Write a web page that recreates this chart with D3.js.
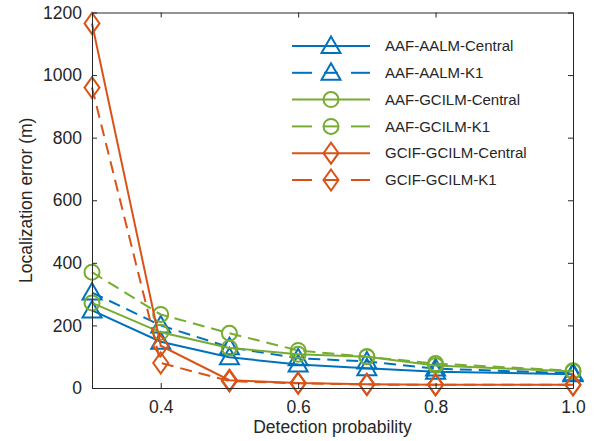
<!DOCTYPE html>
<html lang="en">
<head>
<meta charset="utf-8">
<title>Localization error</title>
<script src="https://d3js.org/d3.v7.min.js"></script>
<style>
  body { margin: 0; background: #fff; }
  text { font-family: "Liberation Sans", Arial, sans-serif; fill: #262626; }
</style>
</head>
<body>
<script>
// data
var probs = [0.3, 0.4, 0.5, 0.6, 0.7, 0.8, 1.0];
var aalmCentral  = [248, 148, 98, 75, 63, 52, 44];
var aalmK1       = [305, 200, 130, 95, 85, 62, 47];
var gcilmCentral = [272, 178, 128, 108, 100, 72, 53];
var gcilmK1      = [370, 235, 175, 120, 100, 78, 55];
var gcifCentral  = [1165, 135, 25, 16, 12, 10, 10];
var gcifK1       = [960, 80, 22, 15, 11, 10, 10];
var xTicks = [0.4, 0.6, 0.8, 1.0];
var yTicks = [0, 200, 400, 600, 800, 1000, 1200];

var blue = "#0072BD", green = "#77AC30", red = "#D95319";

var series = [
  {name: "AAF-AALM-Central", vals: aalmCentral, color: blue, dash: null, marker: "tri"},
  {name: "AAF-AALM-K1", vals: aalmK1, color: blue, dash: "12,7", marker: "tri"},
  {name: "AAF-GCILM-Central", vals: gcilmCentral, color: green, dash: null, marker: "circ"},
  {name: "AAF-GCILM-K1", vals: gcilmK1, color: green, dash: "12,7", marker: "circ"},
  {name: "GCIF-GCILM-Central", vals: gcifCentral, color: red, dash: null, marker: "dia"},
  {name: "GCIF-GCILM-K1", vals: gcifK1, color: red, dash: "12,7", marker: "dia"}
];

var W = 595, H = 441;
var pL = 92, pR = 573, pT = 12.5, pB = 388;

var svg = d3.select("body").append("svg").attr("width", W).attr("height", H);

var x = d3.scaleLinear().domain([0.3, 1.0]).range([pL, pR]);
var y = d3.scaleLinear().domain([0, 1200]).range([pB, pT]);

function drawMarker(g, type, cx, cy, color) {
  if (type === "circ") {
    g.append("circle").attr("cx", cx).attr("cy", cy).attr("r", 7.5)
      .attr("fill", "none").attr("stroke", color).attr("stroke-width", 2);
  } else if (type === "tri") {
    g.append("path")
      .attr("d", "M" + cx + "," + (cy - 9.5) + "L" + (cx + 9.5) + "," + (cy + 7) + "L" + (cx - 9.5) + "," + (cy + 7) + "Z")
      .attr("fill", "none").attr("stroke", color).attr("stroke-width", 2);
  } else {
    g.append("path")
      .attr("d", "M" + cx + "," + (cy - 10.5) + "L" + (cx + 7.5) + "," + cy + "L" + cx + "," + (cy + 10.5) + "L" + (cx - 7.5) + "," + cy + "Z")
      .attr("fill", "none").attr("stroke", color).attr("stroke-width", 2);
  }
}

// series lines + markers
var line = d3.line().x(function(d) { return x(d[0]); }).y(function(d) { return y(d[1]); });
var plot = svg.append("g");
series.forEach(function(s) {
  var pts = probs.map(function(p, i) { return [p, s.vals[i]]; });
  plot.append("path").datum(pts).attr("d", line)
    .attr("fill", "none").attr("stroke", s.color).attr("stroke-width", 2)
    .attr("stroke-dasharray", s.dash);
  pts.forEach(function(p) { drawMarker(plot, s.marker, x(p[0]), y(p[1]), s.color); });
});

// axes (ticks inside, box on)
var axisColor = "#262626";
var xb = svg.append("g").attr("transform", "translate(0," + pB + ")")
  .call(d3.axisBottom(x).tickValues(xTicks).tickFormat(d3.format(".1f")).tickSizeInner(-5).tickSizeOuter(0).tickPadding(13));
var xt = svg.append("g").attr("transform", "translate(0," + pT + ")")
  .call(d3.axisTop(x).tickValues(xTicks).tickFormat("").tickSizeInner(-5).tickSizeOuter(0));
var yl = svg.append("g").attr("transform", "translate(" + pL + ",0)")
  .call(d3.axisLeft(y).tickValues(yTicks).tickFormat(d3.format("d")).tickSizeInner(-5).tickSizeOuter(0).tickPadding(10));
var yr = svg.append("g").attr("transform", "translate(" + pR + ",0)")
  .call(d3.axisRight(y).tickValues(yTicks).tickFormat("").tickSizeInner(-5).tickSizeOuter(0));
[xb, xt, yl, yr].forEach(function(g) {
  g.selectAll("path, line").attr("stroke", axisColor).attr("stroke-width", 1);
  g.selectAll("text").attr("font-size", 17.5).attr("fill", axisColor)
    .style("font-family", "'Liberation Sans', Arial, sans-serif");
});

svg.append("text").attr("x", (pL + pR) / 2).attr("y", 433)
  .attr("text-anchor", "middle").attr("font-size", 17.5).text("Detection probability");
svg.append("text").attr("transform", "translate(32," + ((pT + pB) / 2) + ") rotate(-90)")
  .attr("text-anchor", "middle").attr("font-size", 17.5).text("Localization error (m)");

// legend
var leg = svg.append("g");
series.forEach(function(s, i) {
  var ly = 46 + i * 26.8;
  if (s.dash) {
    leg.append("line").attr("x1", 292).attr("x2", 312).attr("y1", ly).attr("y2", ly)
      .attr("stroke", s.color).attr("stroke-width", 2);
    leg.append("line").attr("x1", 351).attr("x2", 370).attr("y1", ly).attr("y2", ly)
      .attr("stroke", s.color).attr("stroke-width", 2);
    leg.append("line").attr("x1", 324).attr("x2", 338).attr("y1", ly).attr("y2", ly)
      .attr("stroke", s.color).attr("stroke-width", 2);
  } else {
    leg.append("line").attr("x1", 292).attr("x2", 370).attr("y1", ly).attr("y2", ly)
      .attr("stroke", s.color).attr("stroke-width", 2);
  }
  drawMarker(leg, s.marker, 331, ly, s.color);
  leg.append("text").attr("x", 385).attr("y", ly).attr("dy", "0.35em")
    .attr("font-size", 15).text(s.name);
});
</script>
</body>
</html>
